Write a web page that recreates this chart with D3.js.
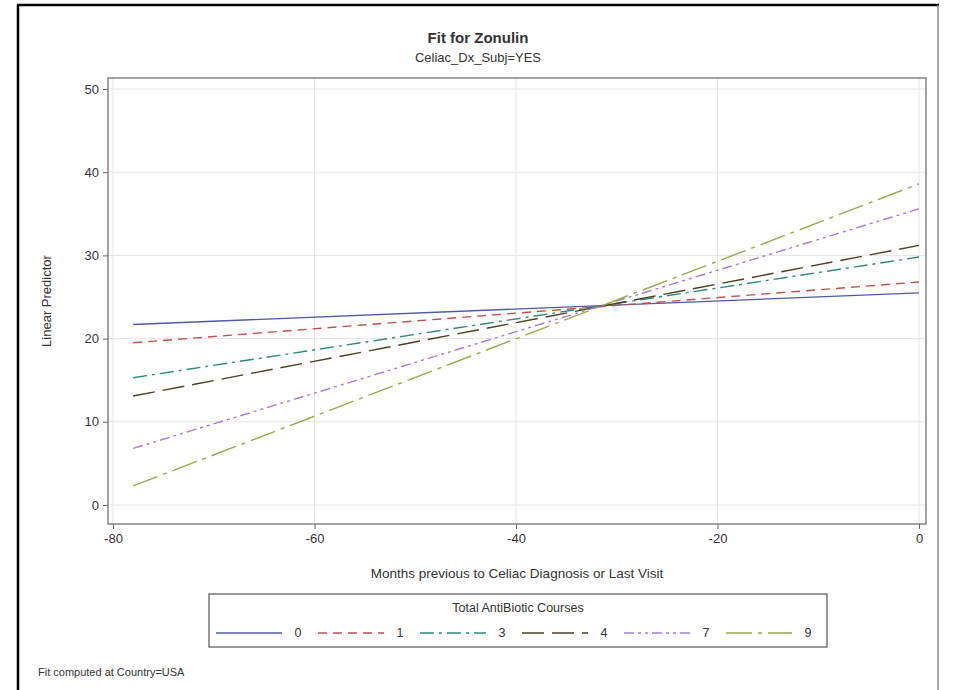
<!DOCTYPE html>
<html>
<head>
<meta charset="utf-8">
<script src="https://cdn.jsdelivr.net/npm/d3@7"></script>
<style>
  body { margin: 0; background: #fff; font-family: "Liberation Sans", Arial, sans-serif; }
  text { fill: #333; }
</style>
</head>
<body>
<svg id="chart" width="955" height="690"></svg>
<script>
// courses of antibiotics (legend groups)
var courses = ["0", "1", "3", "4", "7", "9"];
// fitted line end points: x = months, y = linear predictor
var monthsStart = -78;
var monthsEnd = 0;
var startValues = [21.7, 19.5, 15.3, 13.1, 6.8, 2.3];
var endValues = [25.5, 26.8, 29.8, 31.2, 35.6, 38.6];
var xTicks = [-80, -60, -40, -20, 0];
var yTicks = [0, 10, 20, 30, 40, 50];

var colors = ["#5058a8", "#c0504a", "#2a8a7c", "#4b3f22", "#a878e0", "#9aa848"];
var dashes = ["none", "9,6", "14,5,3,5", "22,8", "10,4,3,4,3,4", "26,6,4,6"];

var svg = d3.select("#chart");

// outer border
svg.append("line").attr("x1", 18).attr("y1", 5).attr("x2", 18).attr("y2", 690)
   .attr("stroke", "#000").attr("stroke-width", 2.5);
svg.append("line").attr("x1", 17).attr("y1", 5).attr("x2", 939).attr("y2", 5)
   .attr("stroke", "#000").attr("stroke-width", 2.5);
svg.append("line").attr("x1", 938).attr("y1", 5).attr("x2", 938).attr("y2", 690)
   .attr("stroke", "#888").attr("stroke-width", 1.5);

var frame = {left: 108, right: 926, top: 78, bottom: 524};

var x = d3.scaleLinear().domain([-80, 0]).range([113, 919]);
var y = d3.scaleLinear().domain([0, 50]).range([505, 89]);

// grid
svg.append("g").selectAll("line").data(xTicks).join("line")
   .attr("x1", d => x(d)).attr("x2", d => x(d))
   .attr("y1", frame.top).attr("y2", frame.bottom)
   .attr("stroke", "#e4e4e4");
svg.append("g").selectAll("line").data(yTicks).join("line")
   .attr("y1", d => y(d)).attr("y2", d => y(d))
   .attr("x1", frame.left).attr("x2", frame.right)
   .attr("stroke", "#e4e4e4");

// frame
svg.append("rect")
   .attr("x", frame.left).attr("y", frame.top)
   .attr("width", frame.right - frame.left).attr("height", frame.bottom - frame.top)
   .attr("fill", "none").attr("stroke", "#666").attr("stroke-width", 1.2);

// axes (plain hyphen for negatives)
var fmt = d => String(d);
var xAxis = svg.append("g")
   .attr("transform", "translate(0," + frame.bottom + ")")
   .call(d3.axisBottom(x).tickValues(xTicks).tickSize(5).tickPadding(5).tickFormat(fmt));
var yAxis = svg.append("g")
   .attr("transform", "translate(" + frame.left + ",0)")
   .call(d3.axisLeft(y).tickValues(yTicks).tickSize(5).tickPadding(4).tickFormat(fmt));
[xAxis, yAxis].forEach(function(a) {
  a.select(".domain").remove();
  a.selectAll(".tick line").attr("stroke", "#666");
  a.selectAll(".tick text").attr("font-size", 13).attr("fill", "#333")
   .attr("font-family", "Liberation Sans, Arial, sans-serif");
});

// fit lines
var line = d3.line().x(d => x(d[0])).y(d => y(d[1]));
courses.forEach(function(c, i) {
  svg.append("path")
     .datum([[monthsStart, startValues[i]], [monthsEnd, endValues[i]]])
     .attr("d", line)
     .attr("fill", "none")
     .attr("stroke", colors[i])
     .attr("stroke-width", 1.4)
     .attr("stroke-dasharray", dashes[i]);
});

// titles
var cx = (frame.left + frame.right) / 2;
svg.append("text").attr("x", 478).attr("y", 43).attr("text-anchor", "middle")
   .attr("font-size", 15).attr("font-weight", "bold").attr("fill", "#222").text("Fit for Zonulin");
svg.append("text").attr("x", 478).attr("y", 62).attr("text-anchor", "middle")
   .attr("font-size", 13).text("Celiac_Dx_Subj=YES");

svg.append("text").attr("transform", "translate(51," + ((frame.top + frame.bottom) / 2) + ") rotate(-90)")
   .attr("text-anchor", "middle").attr("font-size", 13).text("Linear Predictor");
svg.append("text").attr("x", cx).attr("y", 578).attr("text-anchor", "middle")
   .attr("font-size", 13.5).text("Months previous to Celiac Diagnosis or Last Visit");

// legend
var lg = {left: 209, right: 827, top: 594, bottom: 647};
svg.append("rect").attr("x", lg.left).attr("y", lg.top)
   .attr("width", lg.right - lg.left).attr("height", lg.bottom - lg.top)
   .attr("fill", "#fff").attr("stroke", "#555").attr("stroke-width", 1.2);
svg.append("text").attr("x", (lg.left + lg.right) / 2).attr("y", 612).attr("text-anchor", "middle")
   .attr("font-size", 12.5).text("Total AntiBiotic Courses");
var items = svg.append("g").selectAll("g").data(courses).join("g")
   .attr("transform", (d, i) => "translate(" + (216 + i * 102) + ",633)");
items.append("line").attr("x1", 0).attr("x2", 66).attr("y1", 0).attr("y2", 0)
   .attr("stroke", (d, i) => colors[i]).attr("stroke-width", 1.4)
   .attr("stroke-dasharray", (d, i) => dashes[i]);
items.append("text").attr("x", 82).attr("y", 4).attr("text-anchor", "middle")
   .attr("font-size", 12.5).text(d => d);

svg.append("text").attr("x", 38).attr("y", 676).attr("font-size", 11).text("Fit computed at Country=USA");
</script>
</body>
</html>
